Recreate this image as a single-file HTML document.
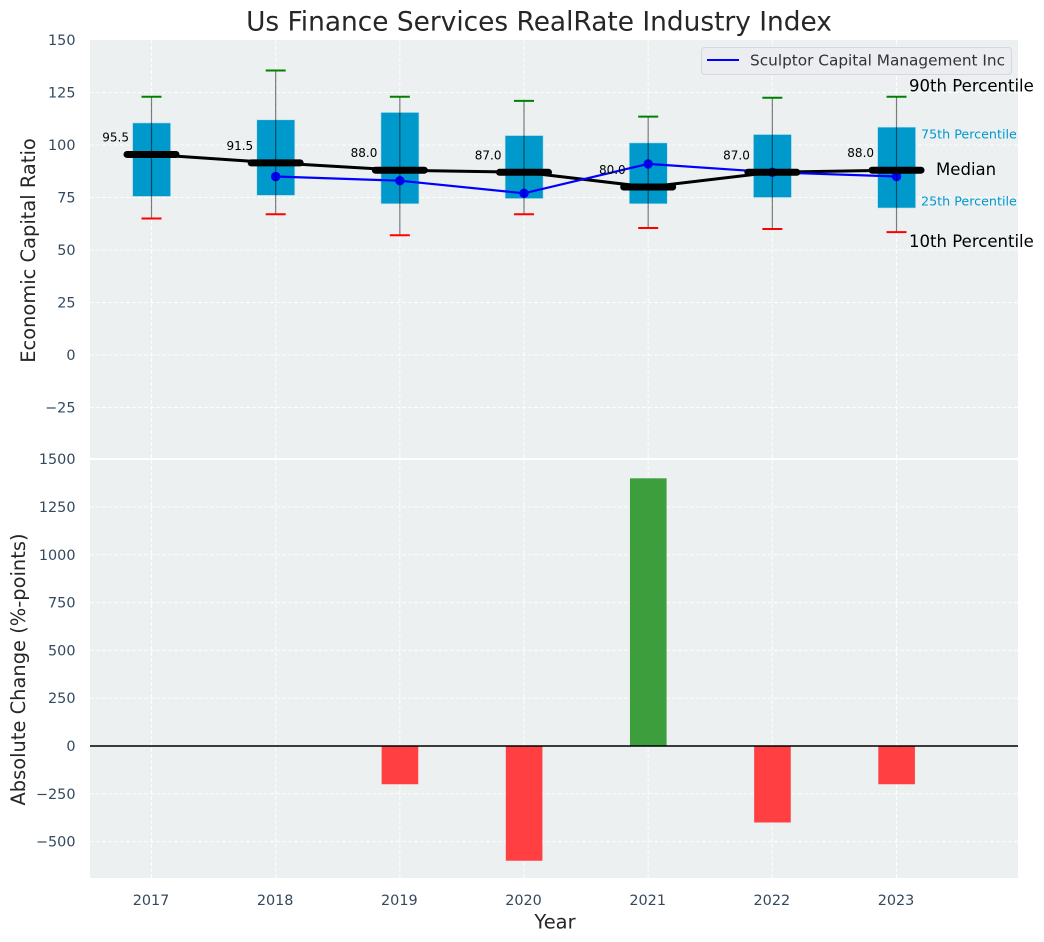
<!DOCTYPE html>
<html>
<head>
<meta charset="utf-8">
<title>Us Finance Services RealRate Industry Index</title>
<style>
html,body{margin:0;padding:0;background:#fff;width:1044px;height:942px;overflow:hidden}
svg{display:block}
text{font-family:"DejaVu Sans","Liberation Sans",sans-serif}
</style>
</head>
<body>
<svg id="chart" xmlns="http://www.w3.org/2000/svg" width="1044" height="942" viewBox="0 0 1044 942">
  <rect x="90" y="40" width="928" height="418" fill="#ecf0f1"/>
  <rect x="90" y="460" width="928" height="418" fill="#ecf0f1"/>
  <g id="grid"></g>
  <g id="ticks"></g>
  <g id="bars"></g>
  <g id="boxes"></g>
  <g id="lines"></g>
  <g id="medians"></g>
  <g id="whiskers"></g>
  <g id="labels"></g>
  <g id="notes"></g>
  <line id="zero-line" x1="90" x2="1018" stroke="#000" stroke-width="1.4"/>
  <text x="539" y="30.5" font-size="26.4" fill="#262626" text-anchor="middle">Us Finance Services RealRate Industry Index</text>
  <text transform="translate(35,250.5) rotate(-90)" font-size="19.45" fill="#262626" text-anchor="middle">Economic Capital Ratio</text>
  <text transform="translate(25,669.5) rotate(-90)" font-size="19.45" fill="#262626" text-anchor="middle">Absolute Change (%-points)</text>
  <text x="555" y="928.5" font-size="19.45" fill="#262626" text-anchor="middle">Year</text>
  <g>
    <rect x="701.5" y="47.5" width="310" height="27" rx="3" fill="#ebedf0" stroke="#d5d8dc" stroke-width="1"/>
    <line x1="707" x2="739" y1="60" y2="60" stroke="#0000ff" stroke-width="2"/>
    <text x="750" y="65.5" font-size="15.3" fill="#333">Sculptor Capital Management Inc</text>
  </g>
</svg>
<script>
const years = [2017, 2018, 2019, 2020, 2021, 2022, 2023];
const p90 = [123, 135.5, 123, 121, 113.5, 122.5, 123];
const p75 = [110.5, 112, 115.5, 104.5, 101, 105, 108.5];
const medianValues = [95.5, 91.5, 88, 87, 80, 87, 88];
const p25 = [75.5, 76, 72, 74.5, 72, 75, 70];
const p10 = [65, 67, 57, 67, 60.5, 60, 58.5];
const companyValues = [null, 85, 83, 77, 91, 87, 85];
const changeValues = [null, null, -200, -600, 1400, -400, -200];
const topTicks = [150, 125, 100, 75, 50, 25, 0, -25];
const bottomTicks = [1500, 1250, 1000, 750, 500, 250, 0, -250, -500];

const NS = 'http://www.w3.org/2000/svg';
function xScale(year) { return 151.5 + (year - 2017) * 124.17; }
function yTop(v) { return 355 - v * 2.1; }
function yBottom(v) { return 746 - v * 0.1912; }
function fmt(v) { return String(v).replace('-', '\u2212'); }
function make(tag, parentId, attrs, content) {
  const el = document.createElementNS(NS, tag);
  for (const k in attrs) el.setAttribute(k, attrs[k]);
  if (content !== undefined) el.textContent = content;
  document.getElementById(parentId).appendChild(el);
  return el;
}
const gridAttrs = { stroke: '#ffffff', 'stroke-width': 1, 'stroke-dasharray': '4 2', 'stroke-opacity': 0.9 };
years.forEach(function (yr) {
  const x = xScale(yr);
  let g = make('line', 'grid', Object.assign({ x1: x, x2: x, y1: 40, y2: 458 }, gridAttrs));
  
  
  g = make('line', 'grid', Object.assign({ x1: x, x2: x, y1: 460, y2: 878 }, gridAttrs));
  
  
  const t = make('text', 'ticks', { x: x - 0.5, y: 905, 'font-size': 14.4, fill: '#34495e', 'text-anchor': 'middle' }, yr);
  
  
});
topTicks.forEach(function (v) {
  const y = yTop(v);
  if (v !== 150) {
    const g = make('line', 'grid', Object.assign({ x1: 90, x2: 1018, y1: y, y2: y }, gridAttrs));
    
    
  }
  const t = make('text', 'ticks', { x: 75.5, y: y + 5, 'font-size': 14.4, fill: '#34495e', 'text-anchor': 'end' }, fmt(v));
  
  
});
bottomTicks.forEach(function (v) {
  const y = yBottom(v);
  if (v !== 1500) {
    const g = make('line', 'grid', Object.assign({ x1: 90, x2: 1018, y1: y, y2: y }, gridAttrs));
    
    
  }
  const t = make('text', 'ticks', { x: 75.5, y: y + 5, 'font-size': 14.4, fill: '#34495e', 'text-anchor': 'end' }, fmt(v));
  
  
});
document.getElementById('zero-line').setAttribute('y1', yBottom(0));
document.getElementById('zero-line').setAttribute('y2', yBottom(0));

years.forEach(function (yr, i) {
  const v = changeValues[i];
  if (v === null) return;
  const x = xScale(yr);
  const b = make('rect', 'bars', {
    x: x - 18.2, width: 36.6,
    y: Math.min(yBottom(v), yBottom(0)),
    height: Math.abs(yBottom(v) - yBottom(0)),
    fill: v >= 0 ? '#3d9e3d' : '#ff3f41'
  });
  
  
});

years.forEach(function (yr, i) {
  const x = xScale(yr);
  const b = make('rect', 'boxes', {
    x: x - 18.9, width: 38,
    y: yTop(p75[i]),
    height: yTop(p25[i]) - yTop(p75[i]),
    fill: '#0099cc', stroke: '#b9dfea', 'stroke-width': 0.6
  });
  
  

  const w = make('line', 'whiskers', { x1: x, x2: x, y1: yTop(p90[i]), y2: yTop(p10[i]), stroke: '#000', 'stroke-opacity': 0.5, 'stroke-width': 1.2 });
  
  
  const c1 = make('line', 'whiskers', { x1: x - 10, x2: x + 10, y1: yTop(p90[i]), y2: yTop(p90[i]), stroke: '#008000', 'stroke-width': 2 });
  
  
  const c2 = make('line', 'whiskers', { x1: x - 10, x2: x + 10, y1: yTop(p10[i]), y2: yTop(p10[i]), stroke: '#ff0000', 'stroke-width': 2 });
  
  

  const m = make('line', 'medians', { x1: x - 24.5, x2: x + 24.5, y1: yTop(medianValues[i]), y2: yTop(medianValues[i]), stroke: '#000', 'stroke-width': 7, 'stroke-linecap': 'round' });
  
  

  const l = make('text', 'labels', { x: x - 22.5, y: yTop(medianValues[i]) - 13, 'font-size': 12, fill: '#000', 'text-anchor': 'end' }, medianValues[i].toFixed(1));
  
  
});

const medianPts = years.map(function (yr, i) { return xScale(yr) + ',' + yTop(medianValues[i]); }).join(' ');
const medianLine = make('polyline', 'lines', { points: medianPts, fill: 'none', stroke: '#000', 'stroke-width': 3 });



const companyPts = [];
years.forEach(function (yr, i) {
  if (companyValues[i] !== null) companyPts.push(xScale(yr) + ',' + yTop(companyValues[i]));
});
const companyLine = make('polyline', 'lines', { points: companyPts.join(' '), fill: 'none', stroke: '#0000ff', 'stroke-width': 2.2 });


years.forEach(function (yr, i) {
  if (companyValues[i] === null) return;
  const d = make('circle', 'lines', { cx: xScale(yr), cy: yTop(companyValues[i]), r: 4.7, fill: '#0000ff' });
  
  
});

const last = years.length - 1;
const lx = xScale(years[last]);
const n90 = make('text', 'notes', { x: lx + 12.5, y: yTop(p90[last]) - 5, 'font-size': 16.55, fill: '#000' }, '90th Percentile');


const n75 = make('text', 'notes', { x: lx + 24.5, y: yTop(p75[last]) + 11.5, 'font-size': 12.7, fill: '#0099cc' }, '75th Percentile');


const nMed = make('text', 'notes', { x: lx + 39.5, y: yTop(medianValues[last]) + 5, 'font-size': 16.55, fill: '#000' }, 'Median');


const n25 = make('text', 'notes', { x: lx + 24.5, y: yTop(p25[last]) - 2.5, 'font-size': 12.7, fill: '#0099cc' }, '25th Percentile');


const n10 = make('text', 'notes', { x: lx + 12.5, y: yTop(p10[last]) + 15, 'font-size': 16.55, fill: '#000' }, '10th Percentile');


</script>
</body>
</html>
